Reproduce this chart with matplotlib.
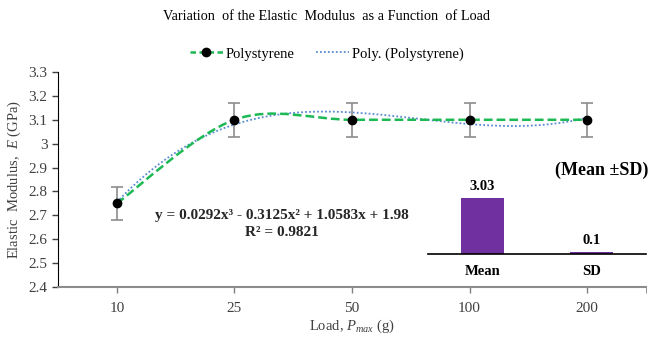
import numpy as np
import matplotlib
matplotlib.use("Agg")
import matplotlib.pyplot as plt
from matplotlib.path import Path
from matplotlib.patches import PathPatch
from matplotlib.lines import Line2D
from matplotlib.ticker import FormatStrFormatter

plt.rcParams["font.family"] = ["Liberation Serif", "DejaVu Serif"]
plt.rcParams["mathtext.fontset"] = "custom"
plt.rcParams["mathtext.rm"] = "Liberation Serif"
plt.rcParams["mathtext.it"] = "Liberation Serif:italic"
plt.rcParams["mathtext.bf"] = "Liberation Serif:bold"

# data
loads = ["10", "25", "50", "100", "200"]
modulus = [2.75, 3.1, 3.1, 3.1, 3.1]
errors = [0.07, 0.07, 0.07, 0.07, 0.07]
poly_coef = [0.0292, -0.3125, 1.0583, 1.98]   # from the trendline label
r2 = 0.9821
stat_names = ["Mean", "SD"]
stat_values = [3.03, 0.1]

green = "#1DB954"
blue = "#5B8BD0"
purple = "#7030A0"

fig = plt.figure(figsize=(6.53, 3.37), dpi=100)
ax = fig.add_axes([58 / 653, 1 - 287 / 337, 588 / 653, 215 / 337])

xs = np.arange(len(loads))

# smoothed line (bezier through points, excel style)
pts = np.column_stack([xs, modulus]).astype(float)
verts = [tuple(pts[0])]
codes = [Path.MOVETO]
for i in range(len(pts) - 1):
    p0 = pts[i - 1] if i > 0 else pts[i]
    p3 = pts[i + 2] if i + 2 < len(pts) else pts[i + 1]
    c1 = pts[i] + (pts[i + 1] - p0) / 6
    c2 = pts[i + 1] - (p3 - pts[i]) / 6
    verts += [tuple(c1), tuple(c2), tuple(pts[i + 1])]
    codes += [Path.CURVE4] * 3
ax.add_patch(PathPatch(Path(verts, codes), facecolor="none", edgecolor=green,
                       lw=1.8, ls=(0, (3.5, 1.6)), zorder=3))

# polynomial trendline
xf = np.linspace(0, len(loads) - 1, 200)
ax.plot(xf, np.polyval(poly_coef, xf + 1), color=blue, lw=1.3, ls=(0, (1, 1.2)), zorder=2)

ax.errorbar(xs, modulus, yerr=errors, fmt="o", color="black", ms=6,
            ecolor="#8c8c8c", elinewidth=1.2, capsize=4, capthick=1.2, zorder=4)

ax.set_xlim(-0.5, len(loads) - 0.5)
ax.set_ylim(2.4, 3.3)
ax.set_yticks(np.arange(2.4, 3.31, 0.1))
ax.yaxis.set_major_formatter(FormatStrFormatter("%g"))
ax.set_xticks(xs)
ax.set_xticklabels(loads)
ax.set_xticks([len(loads) - 0.5], minor=True)
ax.tick_params(axis="both", labelsize=11, colors="#404040", length=4, width=1)
ax.tick_params(axis="x", which="minor", length=4, color="#808080")
ax.tick_params(axis="x", colors="#808080", labelcolor="#404040", pad=7)
for s in ["top", "right"]:
    ax.spines[s].set_visible(False)
ax.spines["left"].set_color("black")
ax.spines["bottom"].set_color("#8c8c8c")
ax.spines["bottom"].set_linewidth(1.5)

ax.set_ylabel("Elastic  Modulus,  $E$ (GPa)", fontsize=10.5, color="#404040", labelpad=4)
ax.set_xlabel("Load, $P_{max}$ (g)", fontsize=10.5, color="#404040", labelpad=2)

eq = "y = %.4fx³ - %.4fx² + %.4fx + %.2f" % (poly_coef[0], -poly_coef[1], poly_coef[2], poly_coef[3])
fig.text(282 / 653, 1 - 215 / 337, eq, ha="center", va="center", fontsize=11,
         fontweight="bold", color="#262626")
fig.text(282 / 653, 1 - 232 / 337, "R² = %.4f" % r2, ha="center", va="center",
         fontsize=11, fontweight="bold", color="#262626")

fig.suptitle("Variation  of the Elastic  Modulus  as a Function  of Load", x=327 / 653,
             y=1 - 17 / 337, va="center", fontsize=10.3)

handles = [Line2D([], [], color=green, lw=1.8, ls=(0, (2.2, 1.4)), marker="o",
                  mfc="black", mec="black", ms=6),
           Line2D([], [], color=blue, lw=1.3, ls=(0, (1, 1.2)))]
fig.legend(handles, ["Polystyrene", "Poly. (Polystyrene)"], loc="center",
           bbox_to_anchor=(327 / 653, 1 - 54 / 337), ncol=2, frameon=False,
           fontsize=10.5, columnspacing=1.5, handlelength=2.25, handletextpad=0.2)

# inset with mean and sd
ins = fig.add_axes([428 / 653, 1 - 254 / 337, 218 / 653, 65 / 337])
bars = ins.bar(np.arange(len(stat_names)), stat_values, width=0.4, color=purple)
ins.set_xlim(-0.5, len(stat_names) - 0.5)
ins.set_ylim(0, 3.5)
ins.patch.set_alpha(0)
for s in ["top", "right", "left"]:
    ins.spines[s].set_visible(False)
ins.spines["bottom"].set_linewidth(1.2)
ins.set_yticks([])
ins.set_xticks(np.arange(len(stat_names)))
ins.set_xticklabels(stat_names, fontsize=10.5, fontweight="bold")
ins.tick_params(axis="x", length=0, pad=8)
for b, v in zip(bars, stat_values):
    ins.text(b.get_x() + b.get_width() / 2, v + 0.25, "%g" % v, ha="center",
             va="bottom", fontsize=10.5, fontweight="bold")
fig.text(602 / 653, 1 - 170 / 337, "(Mean ±SD)", ha="center", va="center",
         fontsize=13, fontweight="bold")

fig.savefig("out.png", dpi=100)
